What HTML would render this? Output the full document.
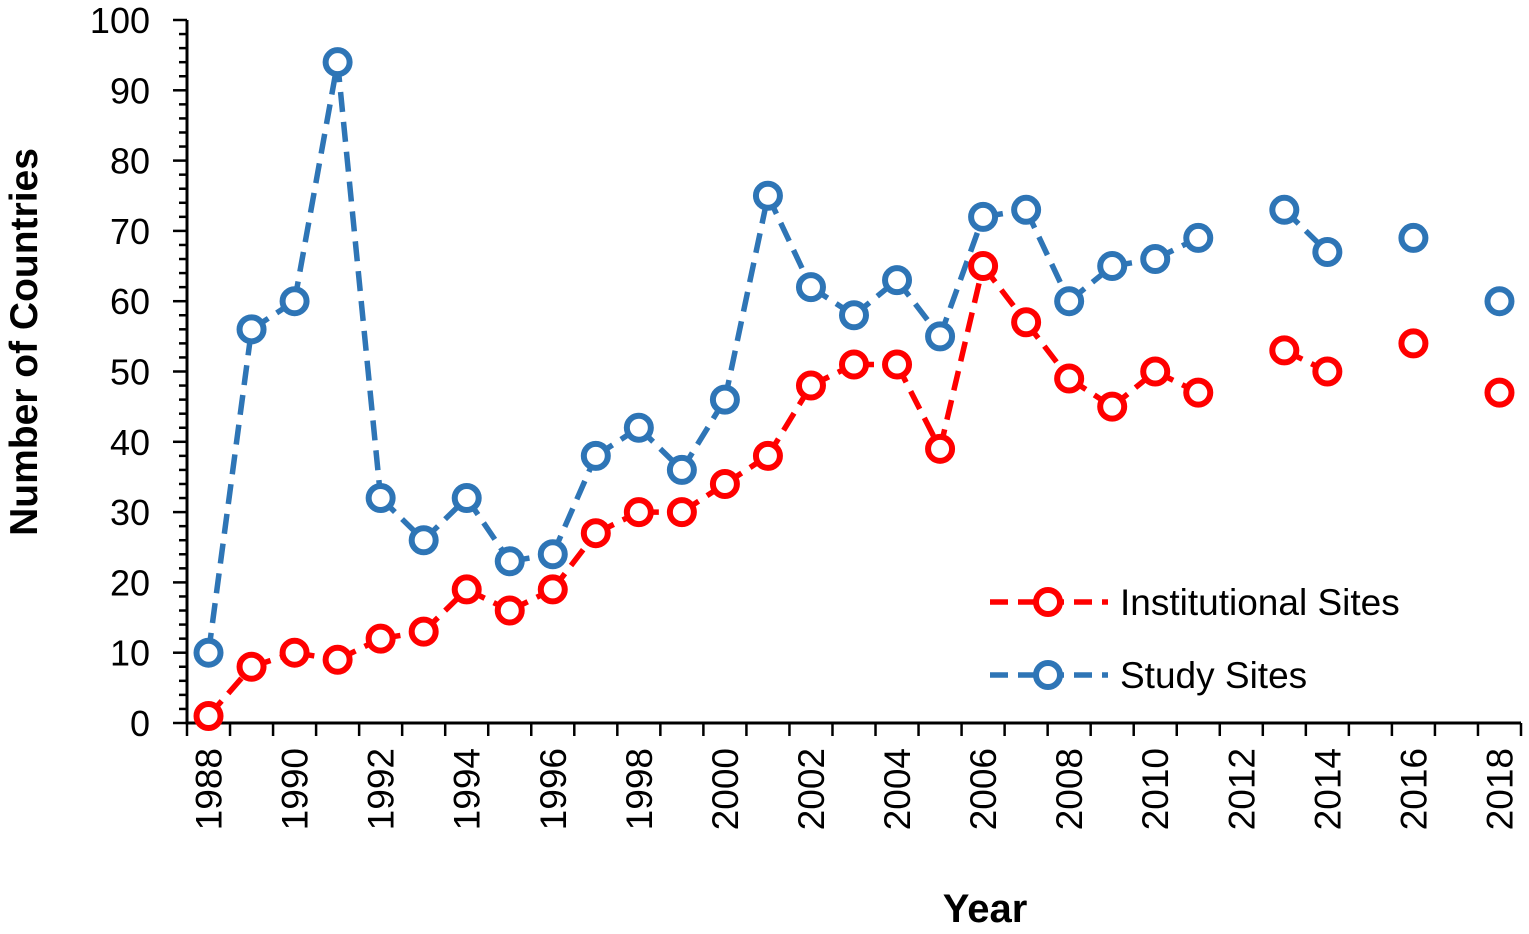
<!DOCTYPE html>
<html><head><meta charset="utf-8"><style>
body{margin:0;background:#fff}
svg text{font-family:"Liberation Sans",sans-serif}
</style></head><body>
<svg id="chart" width="1529" height="929" xmlns="http://www.w3.org/2000/svg">
<g id="axes"></g><g id="series"></g>
<text transform="translate(37,342) rotate(-90)" text-anchor="middle" font-size="39" font-weight="bold">Number of Countries</text>
<text x="985" y="922" text-anchor="middle" font-size="40" font-weight="bold">Year</text>
<g>
<line x1="990" y1="602" x2="1108" y2="602" stroke="#ff0000" stroke-width="5.5" stroke-dasharray="18,10"/>
<circle cx="1048" cy="602" r="12" fill="#fff" stroke="#ff0000" stroke-width="6"/>
<text x="1120" y="615" font-size="37">Institutional Sites</text>
<line x1="990" y1="675" x2="1108" y2="675" stroke="#2e75b6" stroke-width="5.5" stroke-dasharray="18,10"/>
<circle cx="1048" cy="675" r="12" fill="#fff" stroke="#2e75b6" stroke-width="6"/>
<text x="1120" y="688" font-size="37">Study Sites</text>
</g>
</svg>
<script>
const years=[];for(let y=1988;y<=2018;y++)years.push(y);
const studySites=[10,56,60,94,32,26,32,23,24,38,42,36,46,75,62,58,63,55,72,73,60,65,66,69,null,73,67,null,69,null,60];
const institutionalSites=[1,8,10,9,12,13,19,16,19,27,30,30,34,38,48,51,51,39,65,57,49,45,50,47,null,53,50,null,54,null,47];
const yTicks=[0,10,20,30,40,50,60,70,80,90,100];
const NS="http://www.w3.org/2000/svg";
const x0=187,x1=1521,y0=723,yTop=20;
const step=(x1-x0)/years.length;
const xs=i=>x0+step*(i+0.5);
const ys=v=>y0-(v/100)*(y0-yTop);
function mk(t,a,p){const e=document.createElementNS(NS,t);for(const k in a)e.setAttribute(k,a[k]);p.appendChild(e);return e;}
const ax=document.getElementById('axes');
let e=mk('line',{x1:x0,y1:yTop,x2:x0,y2:y0,stroke:'#000','stroke-width':3},ax);


e=mk('line',{x1:x0-1.5,y1:y0,x2:x1,y2:y0,stroke:'#000','stroke-width':3},ax);


for(let v=0;v<=100;v+=2){const big=v%10===0;mk('line',{x1:x0-(big?14:8),y1:ys(v),x2:x0,y2:ys(v),stroke:'#000','stroke-width':2.5},ax);}
yTicks.forEach(v=>{const t=mk('text',{x:150,y:ys(v)+13,'text-anchor':'end','font-size':36},ax);t.textContent=v;

});
for(let i=0;i<=years.length;i++){const x=x0+step*i;mk('line',{x1:x,y1:y0,x2:x,y2:y0+13,stroke:'#000','stroke-width':2.5},ax);}
years.forEach((y,i)=>{if(i%2)return;const t=mk('text',{transform:`translate(${xs(i)+13},${y0+25}) rotate(-90)`,'text-anchor':'end','font-size':37},ax);t.textContent=y;

});
const sg=document.getElementById('series');
function draw(data,color,name){
const g=mk('g',{},sg);


for(let i=0;i<data.length-1;i++){if(data[i]==null||data[i+1]==null)continue;
mk('line',{x1:xs(i),y1:ys(data[i]),x2:xs(i+1),y2:ys(data[i+1]),stroke:color,'stroke-width':5.5,'stroke-dasharray':'20,10'},g);}
data.forEach((v,i)=>{if(v==null)return;const c=mk('circle',{cx:xs(i),cy:ys(v),r:12,fill:'#fff',stroke:color,'stroke-width':6},g);

});
}
draw(studySites,'#2e75b6','study-sites-series');
draw(institutionalSites,'#ff0000','institutional-sites-series');
</script>
</body></html>
